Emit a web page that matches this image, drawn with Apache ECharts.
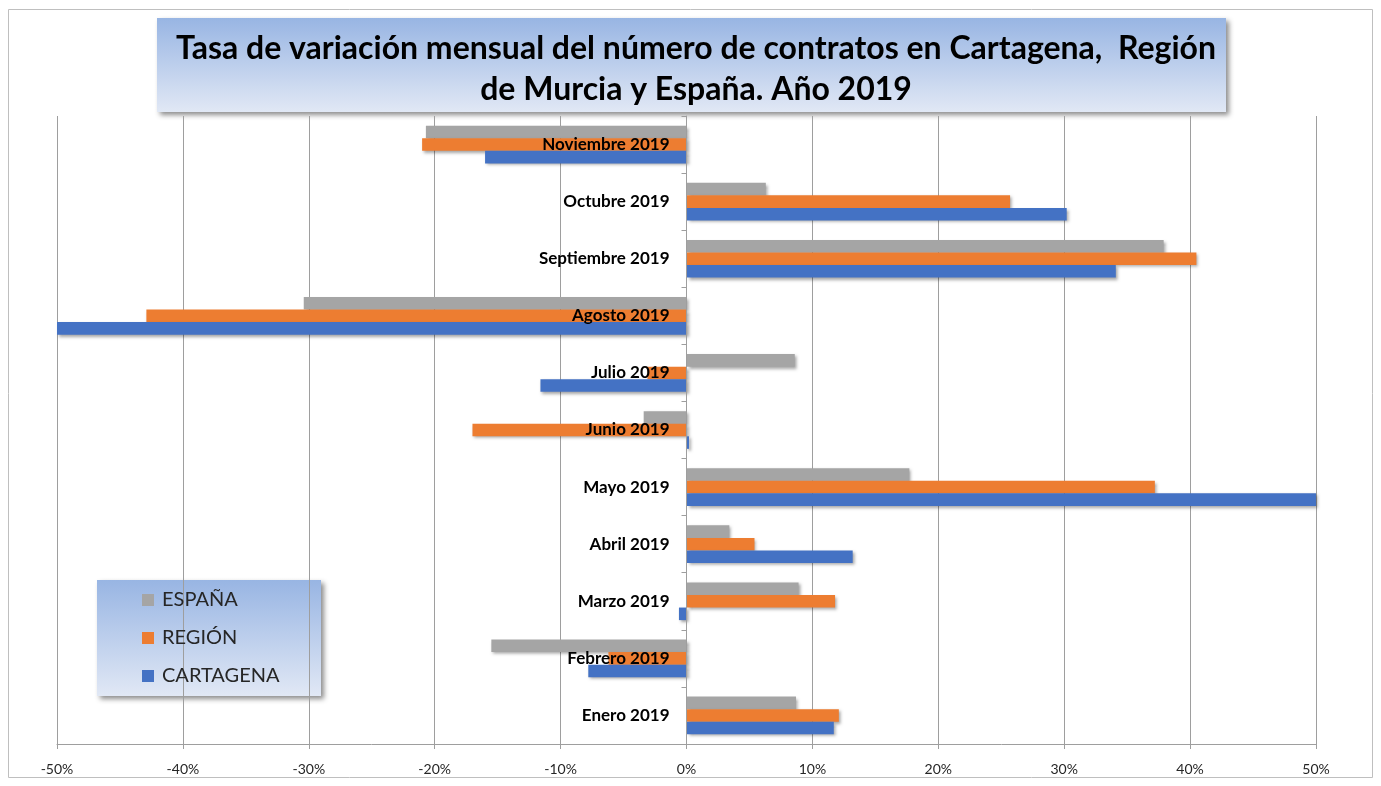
<!DOCTYPE html>
<html>
<head>
<meta charset="utf-8">
<script src="https://cdn.jsdelivr.net/npm/echarts@6/dist/echarts.min.js"></script>
<style>
html,body{margin:0;padding:0;background:#fff;}
#c{width:1381px;height:786px;}
</style>
</head>
<body>
<div id="c"></div>
<script>
const categories = ['Enero 2019','Febrero 2019','Marzo 2019','Abril 2019','Mayo 2019','Junio 2019','Julio 2019','Agosto 2019','Septiembre 2019','Octubre 2019','Noviembre 2019'];
const cartagena = [11.7, -7.8, -0.6, 13.2, 50, 0.2, -11.6, -50, 34.1, 30.2, -16.0];
const region    = [12.1, -6.2, 11.8, 5.4, 37.2, -17.0, -3.1, -42.9, 40.5, 25.7, -21.0];
const espana    = [8.7, -15.5, 8.9, 3.4, 17.7, -3.4, 8.6, -30.4, 37.9, 6.3, -20.7];
const xTicks = {min: -50, max: 50, interval: 10};
const FONT = 'Lato, "Noto Sans", sans-serif';

const chart = echarts.init(document.getElementById('c'), null, {renderer: 'canvas'});
const grad = () => new echarts.graphic.LinearGradient(0, 0, 0, 1, [
  {offset: 0, color: '#98b5e3'}, {offset: 1, color: '#e1e8f5'}
]);
const shadowBar = {shadowBlur: 3, shadowOffsetX: 2, shadowOffsetY: 2, shadowColor: 'rgba(0,0,0,0.35)'};
const GRID = {left: 57, right: 65, top: 116, bottom: 42};
const plotW = 1381 - GRID.left - GRID.right;

chart.setOption({
  backgroundColor: '#fff',
  animation: false,
  graphic: [
    {type: 'rect', shape: {x: 8.5, y: 9.5, width: 1364, height: 768}, style: {fill: 'none', stroke: '#bfbfbf', lineWidth: 1}, z: -10},
    {type: 'rect', shape: {x: 157, y: 18, width: 1069, height: 94}, style: {fill: grad(), shadowBlur: 5, shadowOffsetX: 3, shadowOffsetY: 3, shadowColor: 'rgba(0,0,0,0.45)'}, z: 0},
    {type: 'rect', shape: {x: 97, y: 580, width: 224, height: 116}, style: {fill: grad(), shadowBlur: 5, shadowOffsetX: 3, shadowOffsetY: 3, shadowColor: 'rgba(0,0,0,0.45)'}, z: 0}
  ],
  title: {
    text: 'Tasa de variación mensual del número de contratos en Cartagena,  Región\nde Murcia y España. Año 2019',
    left: 691, top: 23, textAlign: 'center',
    textStyle: {fontFamily: FONT, fontSize: 32, fontWeight: 'bold', color: '#000', lineHeight: 41}
  },
  legend: {
    data: ['ESPAÑA', 'REGIÓN', 'CARTAGENA'],
    orient: 'vertical', left: 137, top: 585, itemGap: 18,
    itemWidth: 12, itemHeight: 12, icon: 'rect',
    textStyle: {fontFamily: FONT, fontSize: 20, color: '#262626', padding: [0, 0, 0, 3]},
    z: 5
  },
  grid: Object.assign({containLabel: false, outerBoundsMode: 'none'}, GRID),
  xAxis: {
    type: 'value', min: xTicks.min, max: xTicks.max, interval: xTicks.interval,
    axisLine: {show: true, lineStyle: {color: '#9e9e9e', width: 1}},
    axisTick: {show: true, length: 5, lineStyle: {color: '#9e9e9e'}},
    axisLabel: {formatter: '{value}%', fontFamily: FONT, fontSize: 14, color: '#262626', margin: 18},
    splitLine: {show: true, lineStyle: {color: '#9e9e9e', width: 1}}
  },
  yAxis: {
    type: 'category', data: categories, z: 10,
    position: 'left', offset: -plotW / 2,
    axisLine: {show: true, onZero: false, lineStyle: {color: '#9e9e9e'}},
    axisTick: {show: true, length: 5, lineStyle: {color: '#9e9e9e'}},
    axisLabel: {fontFamily: FONT, fontSize: 17, fontWeight: 'bold', color: '#000', margin: 17}
  },
  series: [
    {name: 'ESPAÑA', type: 'bar', data: espana, barGap: '0%', barCategoryGap: '34%', itemStyle: Object.assign({color: '#a5a5a5'}, shadowBar)},
    {name: 'REGIÓN', type: 'bar', data: region, barGap: '0%', barCategoryGap: '34%', itemStyle: Object.assign({color: '#ed7d31'}, shadowBar)},
    {name: 'CARTAGENA', type: 'bar', data: cartagena, barGap: '0%', barCategoryGap: '34%', itemStyle: Object.assign({color: '#4472c4'}, shadowBar)}
  ]
});
</script>
</body>
</html>
